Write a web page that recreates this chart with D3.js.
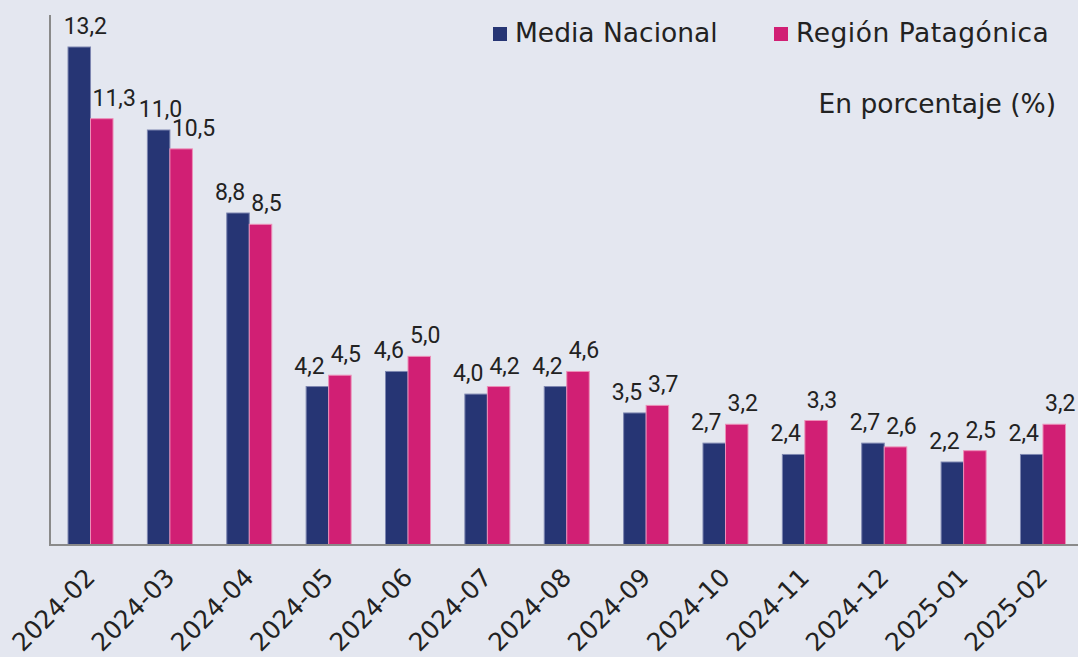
<!DOCTYPE html>
<html>
<head>
<meta charset="utf-8">
<script src="https://cdn.jsdelivr.net/npm/d3@7"></script>
<style>
  html, body { margin: 0; padding: 0; background: #e4e7f0; }
  svg text { font-family: "DejaVu Sans", sans-serif; fill: #222; }
  svg text.val { font-family: Roboto, sans-serif; }
</style>
</head>
<body>
<svg id="chart" width="1078" height="657"></svg>
<script>
"use strict";

let months = ["2024-02", "2024-03", "2024-04", "2024-05", "2024-06", "2024-07", "2024-08",
  "2024-09", "2024-10", "2024-11", "2024-12", "2025-01", "2025-02"]
let mediaNacional = [13.2, 11.0, 8.8, 4.2, 4.6, 4.0, 4.2, 3.5, 2.7, 2.4, 2.7, 2.2, 2.4]
let regionPatagonica = [11.3, 10.5, 8.5, 4.5, 5.0, 4.2, 4.6, 3.7, 3.2, 3.3, 2.6, 2.5, 3.2]
let seriesNames = ["Media Nacional", "Región Patagónica"]
let seriesColors = ["#263574", "#d11f74"]

let svg = d3.select("#chart")
let fmt = v => v.toFixed(1).replace(".", ",")

let x = d3.scaleBand()
    .domain(months)
    .range([50, 1083.5])
    .paddingInner(0.433)
    .paddingOuter(0.227)
let sub = d3.scaleBand().domain([0, 1]).range([0, x.bandwidth()])
let y = d3.scaleLinear().domain([0, 13.2]).range([545, 47])

let rows = months.map((m, i) => ({month: m, vals: [mediaNacional[i], regionPatagonica[i]]}))

let groups = svg.append("g").selectAll("g")
    .data(rows).join("g")
    .attr("transform", d => "translate(" + x(d.month) + ",0)")

groups.selectAll("rect")
    .data(d => d.vals.map((v, k) => ({v, k})))
    .join("rect")
    .attr("x", d => sub(d.k))
    .attr("y", d => y(d.v))
    .attr("width", sub.bandwidth())
    .attr("height", d => y(0) - y(d.v))
    .attr("fill", d => seriesColors[d.k])
    .attr("stroke", d => d.k === 0 ? "#7d86b0" : "#ec8fb8")
    .attr("stroke-width", 1)

// value labels: navy ends near its right edge, pink starts at its left edge;
// a navy label is centered when the pink one sits well below it
let prevPink = null
groups.each(function(d){
  let g = d3.select(this)
  let [a, b] = d.vals
  let bw = sub.bandwidth()
  let x0 = x(d.month)
  let navy = g.append("text").attr("class", "val").attr("y", y(a) - 13).attr("font-size", 23).text(fmt(a))
  if (a - b > 1.5) navy.attr("x", bw / 2 + 6).attr("text-anchor", "middle")
  else navy.attr("x", bw - 4).attr("text-anchor", "end")
  // nudge right if it runs into the previous pink label
  if (prevPink) {
    let nb = navy.node().getBBox(), pb = prevPink.node().getBBox()
    let px = pb.x + pb.width + (x0 - x.step()), nx = nb.x + x0
    let vOverlap = nb.y < pb.y + pb.height && pb.y < nb.y + nb.height
    if (vOverlap && nx < px + 3) navy.attr("x", +navy.attr("x") + (px + 3 - nx))
  }
  prevPink = g.append("text").attr("class", "val").attr("x", bw + 2).attr("y", y(b) - 13)
    .attr("font-size", 23).attr("text-anchor", "start").text(fmt(b))
})

// axes lines
svg.append("line").attr("x1", 50).attr("x2", 50).attr("y1", 15).attr("y2", 545)
    .attr("stroke", "#8a8a8a").attr("stroke-width", 2)
svg.append("line").attr("x1", 49).attr("x2", 1078).attr("y1", 545).attr("y2", 545)
    .attr("stroke", "#8a8a8a").attr("stroke-width", 2)

// month labels
svg.append("g").selectAll("text")
    .data(months).join("text")
    .attr("transform", d => "translate(" + (x(d) + x.bandwidth() / 2 + 6) + ",579) rotate(-45)")
    .attr("text-anchor", "end")
    .attr("font-size", 25)
    .text(d => d)

// legend
let legendX = [493, 774]
let leg = svg.append("g").selectAll("g")
    .data(seriesNames).join("g")
    .attr("transform", (d, i) => "translate(" + legendX[i] + ",27)")
leg.append("rect").attr("width", 14).attr("height", 14)
    .attr("fill", (d, i) => seriesColors[i])
leg.append("text").attr("x", 22).attr("y", 15).attr("font-size", 26.5)
    .attr("letter-spacing", (d, i) => i ? 0.5 : 0).text(d => d)

svg.append("text").attr("x", 1056).attr("y", 113).attr("text-anchor", "end")
    .attr("font-size", 26.5).text("En porcentaje (%)")
</script>
</body>
</html>
